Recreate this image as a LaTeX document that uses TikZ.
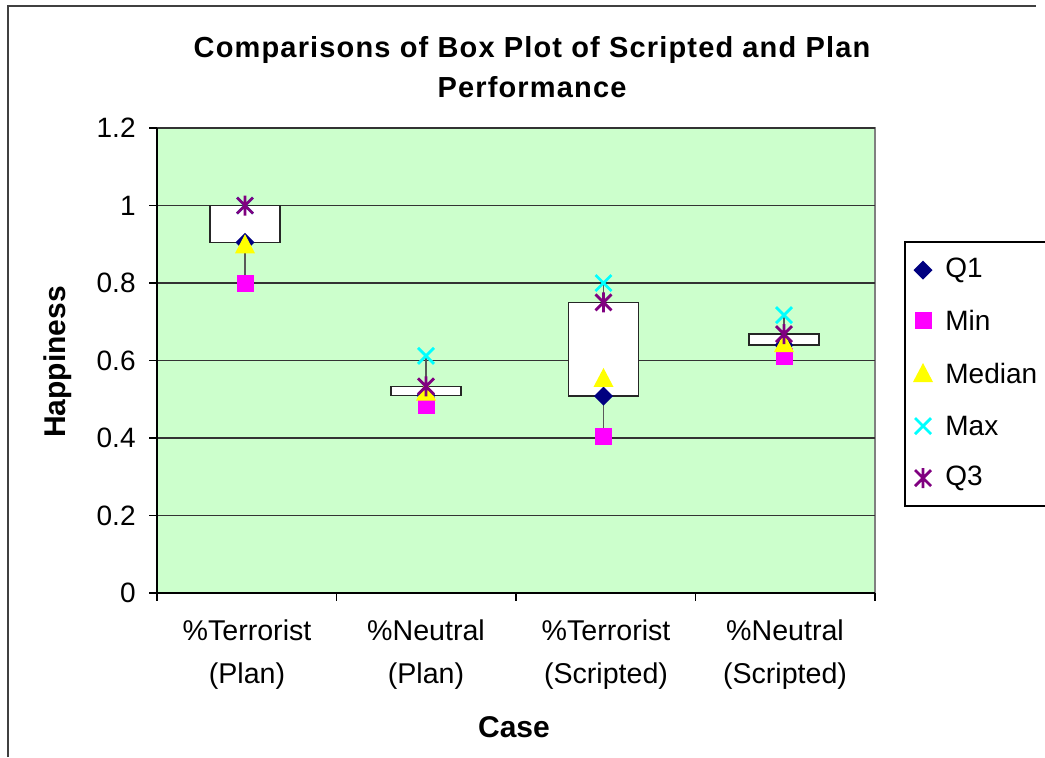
\documentclass[tikz,border=0pt]{standalone}
\usepackage{fontspec}
\setmainfont{Liberation Sans}
\newfontfamily\titlefont[LetterSpace=4]{Liberation Sans}
\usetikzlibrary{calc}
\definecolor{PlotClr}{RGB}{204,255,204}
\definecolor{QoneClr}{RGB}{0,0,128}
\definecolor{MinClr}{RGB}{255,0,255}
\definecolor{MedianClr}{RGB}{255,255,0}
\definecolor{MaxClr}{RGB}{0,255,255}
\definecolor{QthreeClr}{RGB}{128,0,128}
\definecolor{FrameClr}{RGB}{64,64,64}

\tikzset{
  gridline/.style={line width=0.7pt,color=black!80},
  boxrect/.style={draw=black!85,fill=white,line width=0.7pt},
  whisker/.style={line width=0.7pt,color=black!65},
  ticklbl/.style={font=\fontsize{14}{16}\selectfont,inner sep=0pt},
  catlbl/.style={font=\fontsize{14.3}{21.5}\selectfont,align=center,inner sep=0pt},
  axislbl/.style={font=\fontsize{15}{17}\selectfont\bfseries,inner sep=0pt},
  qone/.pic={\fill[QoneClr] (-9.5,0)--(0,-9.5)--(9.5,0)--(0,9.5)--cycle;},
  qmin/.pic={\fill[MinClr] (-8.5,-8.5) rectangle (8.5,8.5);},
  qmed/.pic={\fill[MedianClr] (-10,9)--(10,9)--(0,-10)--cycle;},
  qmax/.pic={\draw[MaxClr,line width=1.4pt] (-8,-8)--(8,8) (-8,8)--(8,-8);},
  qthree/.pic={\draw[QthreeClr,line width=1.4pt] (-8,-8)--(8,8) (-8,8)--(8,-8) (0,-10)--(0,10);}
}

\begin{document}
\begin{tikzpicture}[x=0.5pt,y=-0.5pt]
\useasboundingbox (0,0) rectangle (1045,757);

\draw[FrameClr,line width=1pt] (8,757)--(8,6)--(1036,6);

\fill[PlotClr] (157,128) rectangle (875,593);
\draw[black!50,line width=0.8pt] (157,128) rectangle (875,593);
\foreach \k in {1,...,6}
  \draw[gridline] (157,{593-77.5*\k}) -- (875,{593-77.5*\k});
\draw[black,line width=0.8pt] (157,128)--(157,593)--(875,593);

\foreach \k/\lbl in {0/0,1/0.2,2/0.4,3/0.6,4/0.8,5/1,6/1.2}{
  \draw[line width=0.7pt] (149,{593-77.5*\k})--(157,{593-77.5*\k});
  \node[ticklbl,anchor=east] (ylbl\k) at (136,{593-77.5*\k}) {\lbl};
}
\foreach \x in {157,336.5,516,695.5,875}
  \draw[line width=0.7pt] (\x,593)--(\x,601);

\foreach \cx/\vmin/\vqa/\vmed/\vqc/\vmax [count=\i] in {245/0.8/0.905/0.9/1.0/1.0,426/0.485/0.51/0.52/0.533/0.612,603.5/0.405/0.508/0.555/0.75/0.8,784/0.61/0.64/0.645/0.668/0.717}{
  \coordinate (min\i) at (\cx,{593-387.5*\vmin});
  \coordinate (qa\i) at (\cx,{593-387.5*\vqa});
  \coordinate (med\i) at (\cx,{593-387.5*\vmed});
  \coordinate (qc\i) at (\cx,{593-387.5*\vqc});
  \coordinate (max\i) at (\cx,{593-387.5*\vmax});
  \draw[whisker] (min\i) -- (max\i);
  \draw[boxrect] ($(qa\i)+(-35,0)$) rectangle ($(qc\i)+(35,0)$);
  \pic at (qa\i) {qone};
  \pic at (min\i) {qmin};
  \pic at (med\i) {qmed};
  \pic at (max\i) {qmax};
  \pic at (qc\i) {qthree};
}

\node[catlbl] (cat1) at (247,655) {\%Terrorist\\(Plan)};
\node[catlbl] (cat2) at (426,655) {\%Neutral\\(Plan)};
\node[catlbl] (cat3) at (606,655) {\%Terrorist\\(Scripted)};
\node[catlbl] (cat4) at (785,655) {\%Neutral\\(Scripted)};

\node[font=\titlefont\fontsize{14.5}{20}\selectfont\bfseries,align=center,inner sep=0pt] (title) at (532,67) {Comparisons of Box Plot of Scripted and Plan\\Performance};
\node[axislbl,rotate=90] (ylabel) at (58,362) {Happiness};
\node[axislbl] (xlabel) at (514,727) {Case};

\draw[black,line width=0.7pt] (1046,242)--(905,242)--(905,506)--(1046,506);
\pic at (923,270) {qone};
\pic at (923,320) {qmin};
\pic at (923,373) {qmed};
\pic at (923,426) {qmax};
\pic at (923,478) {qthree};
\node[ticklbl,anchor=west] (lgqone) at (945,270) {Q1};
\node[ticklbl,anchor=west] (lgmin) at (945,320) {Min};
\node[ticklbl,anchor=west] (lgmed) at (945,373) {Median};
\node[ticklbl,anchor=west] (lgmax) at (945,426) {Max};
\node[ticklbl,anchor=west] (lgqthree) at (945,478) {Q3};
\end{tikzpicture}
\end{document}
